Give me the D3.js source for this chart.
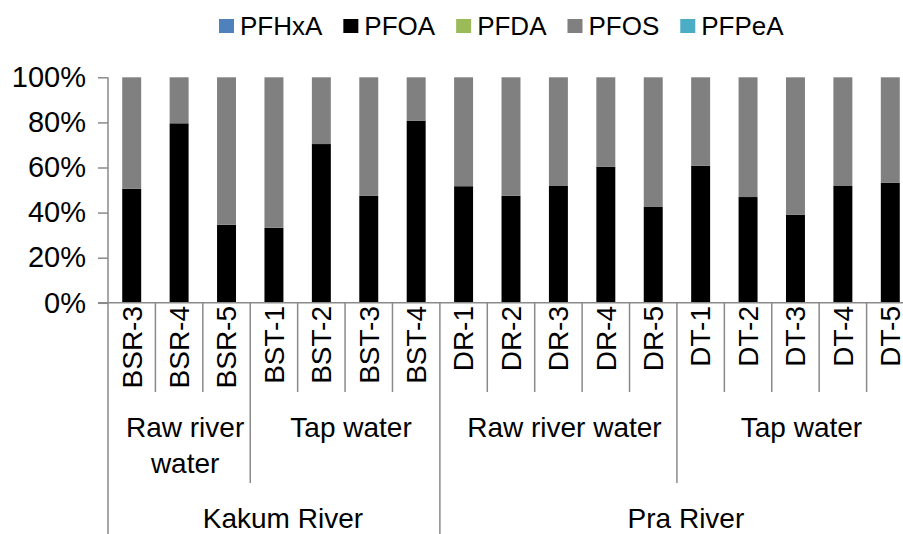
<!DOCTYPE html>
<html>
<head>
<meta charset="utf-8">
<script src="https://cdn.jsdelivr.net/npm/d3@7/dist/d3.min.js"></script>
<style>
  html, body { margin: 0; padding: 0; background: #fff; }
  svg { display: block; font-family: "Liberation Sans", Arial, Helvetica, sans-serif; }
</style>
</head>
<body>
<svg id="chart" width="903" height="534"></svg>
<script>
// ---------------- data ----------------
const categories = ["BSR-3","BSR-4","BSR-5","BST-1","BST-2","BST-3","BST-4",
                    "DR-1","DR-2","DR-3","DR-4","DR-5",
                    "DT-1","DT-2","DT-3","DT-4","DT-5"];
const seriesNames = ["PFHxA","PFOA","PFDA","PFOS","PFPeA"];
const seriesColors = ["#4F81BD","#000000","#9BBB59","#808080","#4BACC6"];
const pfhxa = [0,0,0,0,0,0,0,0,0,0,0,0,0,0,0,0,0];
const pfoa  = [50.6,79.6,34.6,33.3,70.4,47.4,80.8,51.7,47.5,51.8,60.4,42.5,60.8,46.9,39.1,51.8,53.3];
const pfda  = [0,0,0,0,0,0,0,0,0,0,0,0,0,0,0,0,0];
const pfos  = [49.4,20.4,65.4,66.7,29.6,52.6,19.2,48.3,52.5,48.2,39.6,57.5,39.2,53.1,60.9,48.2,46.7];
const pfpea = [0,0,0,0,0,0,0,0,0,0,0,0,0,0,0,0,0];
const sampleTypes = ["Raw river water","Tap water","Raw river water","Tap water"];
const sampleTypeCounts = [3,4,5,5];
const rivers = ["Kakum River","Pra River"];
const riverCounts = [7,10];
const yTicks = [0,0.2,0.4,0.6,0.8,1.0];

// ---------------- build table ----------------
const seriesValues = [pfhxa, pfoa, pfda, pfos, pfpea];
const table = categories.map((c,i) => {
  const row = {cat: c};
  seriesNames.forEach((s,k) => row[s] = seriesValues[k][i]);
  return row;
});

const svg = d3.select("#chart");
const plotLeft = 108, plotRight = 914, plotTop = 77.3, plotBottom = 302.8;
const axisColor = "#8a8a8a";

const x = d3.scaleBand().domain(categories).range([plotLeft, plotRight])
  .paddingInner(0.6).paddingOuter(0.3);
const y = d3.scaleLinear().domain([0,1]).range([plotBottom, plotTop]);
const color = d3.scaleOrdinal().domain(seriesNames).range(seriesColors);

const stacked = d3.stack().keys(seriesNames).offset(d3.stackOffsetExpand)(table);

// bars
svg.append("g").selectAll("g").data(stacked).join("g")
  .attr("fill", d => color(d.key))
  .selectAll("rect").data(d => d).join("rect")
  .attr("x", d => x(d.data.cat))
  .attr("width", x.bandwidth())
  .attr("y", d => y(d[1]))
  .attr("height", d => Math.max(0, y(d[0]) - y(d[1])));

// y axis
const yAxis = d3.axisLeft(y).tickValues(yTicks).tickFormat(d3.format(".0%"))
  .tickSize(10).tickPadding(12).tickSizeOuter(0);
const gy = svg.append("g").attr("transform", `translate(${plotLeft},0)`).call(yAxis);
gy.select(".domain").remove();
gy.selectAll(".tick line").attr("stroke", axisColor).attr("stroke-width", 1.5);
gy.selectAll(".tick text").attr("font-size", 29).attr("fill", "#000")
  .attr("font-family", "Liberation Sans, Arial, sans-serif");

const lines = svg.append("g").attr("stroke", axisColor).attr("stroke-width", 1.5);
lines.append("line").attr("x1", plotLeft).attr("x2", plotLeft).attr("y1", plotTop).attr("y2", 534);
lines.append("line").attr("x1", plotLeft - 10).attr("x2", plotRight).attr("y1", plotBottom).attr("y2", plotBottom);

// category separators
const step = x.step();
const boundary = i => x(categories[i]) - (step - x.bandwidth()) / 2;
const typeBounds = new Set(); let acc = 0;
sampleTypeCounts.forEach(n => { acc += n; typeBounds.add(acc); });
const riverBounds = new Set(); acc = 0;
riverCounts.forEach(n => { acc += n; riverBounds.add(acc); });
for (let i = 1; i <= categories.length; i++) {
  const bx = i < categories.length ? boundary(i) : plotRight;
  const y2 = riverBounds.has(i) ? 534 : (typeBounds.has(i) ? 483 : 392);
  lines.append("line").attr("x1", bx).attr("x2", bx).attr("y1", plotBottom).attr("y2", y2);
}

// category labels (rotated)
svg.append("g").selectAll("text").data(categories).join("text")
  .attr("transform", d => `translate(${x(d) + x.bandwidth()/2},306) rotate(-90)`)
  .attr("text-anchor", "end").attr("dy", "0.35em")
  .attr("font-size", 28).attr("fill", "#000")
  .text(d => d);

function groupSpans(counts) {
  const spans = []; let s = 0;
  counts.forEach(n => {
    const x0 = s === 0 ? plotLeft : boundary(s);
    const x1 = (s + n) < categories.length ? boundary(s + n) : plotRight;
    spans.push([x0, x1]); s += n;
  });
  return spans;
}

// sample type labels
const typeSpans = groupSpans(sampleTypeCounts);
sampleTypes.forEach((label, k) => {
  const [x0, x1] = typeSpans[k];
  const cx = (x0 + x1) / 2 + 6;
  const t = svg.append("text").attr("x", cx).attr("y", 437)
    .attr("text-anchor", "middle").attr("font-size", 28).attr("fill", "#000");
  t.text(label);
  if (t.node().getComputedTextLength() > (x1 - x0) - 6) {
    const words = label.split(" ");
    t.text(null);
    let line = [], lineNo = 0;
    let ts = t.append("tspan").attr("x", cx).attr("y", 437);
    words.forEach(w => {
      line.push(w);
      ts.text(line.join(" "));
      if (ts.node().getComputedTextLength() > (x1 - x0) - 6 && line.length > 1) {
        line.pop(); ts.text(line.join(" "));
        line = [w]; lineNo++;
        ts = t.append("tspan").attr("x", cx).attr("y", 437 + lineNo * 36).text(w);
      }
    });
  }
});

// river labels
const riverSpans = groupSpans(riverCounts);
rivers.forEach((label, k) => {
  const [x0, x1] = riverSpans[k];
  svg.append("text").attr("x", (x0 + x1) / 2 + 9).attr("y", 528)
    .attr("text-anchor", "middle").attr("font-size", 28).attr("fill", "#000")
    .text(label);
});

// legend
const legend = svg.append("g");
let lx = 219;
seriesNames.forEach((s, k) => {
  legend.append("rect").attr("x", lx).attr("y", 19).attr("width", 15).attr("height", 14)
    .attr("fill", seriesColors[k]);
  const t = legend.append("text").attr("x", lx + 21).attr("y", 26).attr("dy", "0.35em")
    .attr("font-size", 26).attr("fill", "#000").text(s);
  lx += 21 + t.node().getComputedTextLength() + 21;
});
</script>
</body>
</html>
